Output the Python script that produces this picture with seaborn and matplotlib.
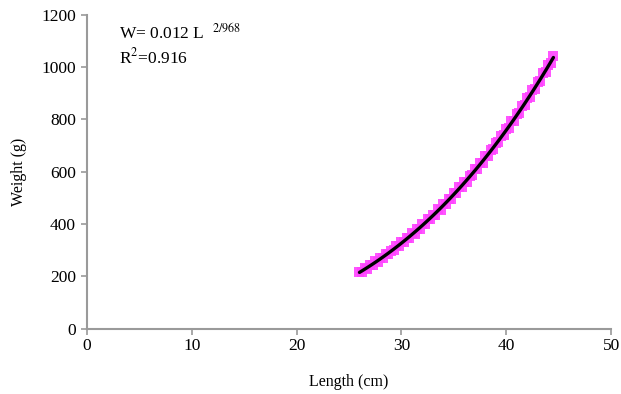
import numpy as np
import pandas as pd
import matplotlib
matplotlib.use("Agg")
import matplotlib.pyplot as plt
import seaborn as sns

length_cm = [26.0, 26.25, 26.5, 26.75, 27.0, 27.25, 27.5, 27.75, 28.0, 28.25,
             28.5, 28.75, 29.0, 29.25, 29.5, 29.75, 30.0, 30.25, 30.5, 30.75,
             31.0, 31.25, 31.5, 31.75, 32.0, 32.25, 32.5, 32.75, 33.0, 33.25,
             33.5, 33.75, 34.0, 34.25, 34.5, 34.75, 35.0, 35.25, 35.5, 35.75,
             36.0, 36.25, 36.5, 36.75, 37.0, 37.25, 37.5, 37.75, 38.0, 38.25,
             38.5, 38.75, 39.0, 39.25, 39.5, 39.75, 40.0, 40.25, 40.5, 40.75,
             41.0, 41.25, 41.5, 41.75, 42.0, 42.25, 42.5, 42.75, 43.0, 43.25,
             43.5, 43.75, 44.0, 44.25, 44.5]
weight_g = [218, 217, 233, 228, 242, 244, 258, 255, 269, 270,
            286, 284, 298, 300, 316, 314, 331, 330, 348, 346,
            364, 363, 382, 381, 399, 398, 418, 417, 436, 436,
            456, 455, 476, 475, 497, 496, 518, 518, 540, 540,
            562, 562, 585, 586, 609, 610, 633, 634, 658, 660,
            684, 686, 710, 712, 737, 739, 764, 767, 792, 795,
            821, 824, 850, 854, 880, 884, 911, 916, 943, 948,
            975, 980, 1008, 1014, 1040]

x_ticks = [0, 10, 20, 30, 40, 50]
y_ticks = [0, 200, 400, 600, 800, 1000, 1200]

sns.set_theme(style="white")
plt.rcParams['font.family'] = ['Liberation Serif', 'DejaVu Serif']
plt.rcParams['mathtext.fontset'] = 'stix'
plt.rcParams['text.color'] = 'black'
plt.rcParams['axes.labelcolor'] = 'black'
plt.rcParams['xtick.color'] = 'black'
plt.rcParams['ytick.color'] = 'black'

df = pd.DataFrame({"Length": length_cm, "Weight": weight_g})

fig = plt.figure(figsize=(6.21, 3.94), dpi=100)
ax = fig.add_axes([0.140, 0.166, 0.844, 0.797])

sns.scatterplot(data=df, x="Length", y="Weight", ax=ax, marker="s", s=50,
                color="#FF44FF", edgecolor="#FF44FF", linewidth=0, alpha=0.9)

# power fit W = a L^b from the data
b, loga = np.polyfit(np.log(df["Length"]), np.log(df["Weight"]), 1)
xs = np.linspace(min(length_cm), max(length_cm), 100)
sns.lineplot(x=xs, y=np.exp(loga) * xs ** b, ax=ax, color="black", linewidth=2.4)

ax.set_xlim(0, 50)
ax.set_ylim(0, 1200)
ax.set_xticks(x_ticks)
ax.set_yticks(y_ticks)
ax.set_xticklabels([str(t) for t in x_ticks], fontsize=12.5)
ax.set_yticklabels([str(t) for t in y_ticks], fontsize=12.5)
ax.set_xlabel("Length (cm)", fontsize=11.5, labelpad=14)
ax.set_ylabel("Weight (g)", fontsize=11.5, labelpad=10)

for side in ["top", "right"]:
    ax.spines[side].set_visible(False)
for side in ["left", "bottom"]:
    ax.spines[side].set_color("#9a9a9a")
    ax.spines[side].set_linewidth(1.5)
ax.tick_params(axis="both", which="major", bottom=True, left=True, length=4,
               width=1.2, color="#9a9a9a", labelcolor="black", direction="out")
ax.tick_params(axis="x", pad=3)
ax.tick_params(axis="y", pad=4)

ax.text(0.062, 0.975, r"W= 0.012 L$\ \ ^{2/968}$", transform=ax.transAxes,
        fontsize=12.5, va="top", ha="left", color="black")
ax.text(0.062, 0.895, r"R$^{2}$=0.916", transform=ax.transAxes,
        fontsize=12.5, va="top", ha="left", color="black")

fig.savefig("out.png", dpi=100)
